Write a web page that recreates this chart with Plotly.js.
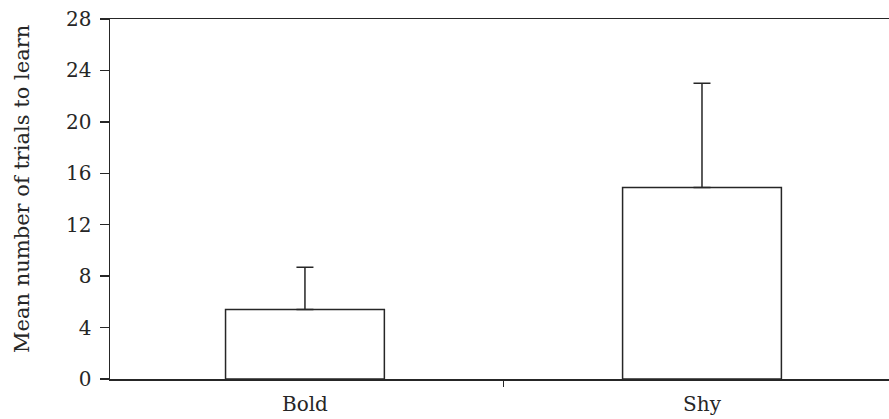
<!DOCTYPE html>
<html>
<head>
<meta charset="utf-8">
<script src="https://cdn.plot.ly/plotly-3.0.1.min.js"></script>
<style>html,body{margin:0;padding:0;background:#fff;}#chart{width:889px;height:419px;}</style>
</head>
<body>
<div id="chart"></div>
<script>
const categories = ["Bold", "Shy"];
const meanTrials = [5.4, 14.9];
const errorPlus = [3.3, 8.1];
const yTicks = [0, 4, 8, 12, 16, 20, 24, 28];
const yTitle = "Mean number of trials to learn";

const ink = "#262626";
const fontFam = "DejaVu Serif";

const trace = {
  type: "bar",
  x: categories,
  y: meanTrials,
  width: 0.4,
  marker: { color: "#ffffff", line: { color: ink, width: 1.5 } },
  error_y: { type: "data", array: errorPlus, arrayminus: [0, 0], symmetric: false, color: ink, thickness: 1.5, width: 8.5 },
  hoverinfo: "none"
};

const layout = {
  width: 889, height: 419,
  margin: { l: 110, r: 0, t: 19, b: 40 },
  paper_bgcolor: "#ffffff", plot_bgcolor: "#ffffff",
  showlegend: false,
  bargap: 0,
  xaxis: {
    type: "category",
    range: [-0.491, 1.471],
    showline: true, linecolor: ink, linewidth: 1.5, mirror: true,
    ticks: "outside", tickson: "boundaries", ticklen: 6, tickcolor: ink, tickwidth: 1.4,
    showgrid: false, zeroline: false,
    tickfont: { family: fontFam, size: 20, color: ink },
    ticklabelstandoff: 6
  },
  yaxis: {
    range: [0, 28],
    tickvals: yTicks,
    ticktext: yTicks.map(String),
    showline: true, linecolor: ink, linewidth: 1.5,
    ticks: "outside", ticklen: 9, tickcolor: ink, tickwidth: 1.4,
    showgrid: false, zeroline: false,
    tickfont: { family: fontFam, size: 20, color: ink },
    ticklabelstandoff: 4
  },
  annotations: [{
    text: yTitle,
    xref: "paper", yref: "paper",
    x: -0.113, y: 0.528,
    xanchor: "center", yanchor: "middle",
    textangle: -90,
    showarrow: false,
    font: { family: fontFam, size: 21, color: ink }
  }]
};

Plotly.newPlot("chart", [trace], layout, { displayModeBar: false, staticPlot: true });
</script>
</body>
</html>
